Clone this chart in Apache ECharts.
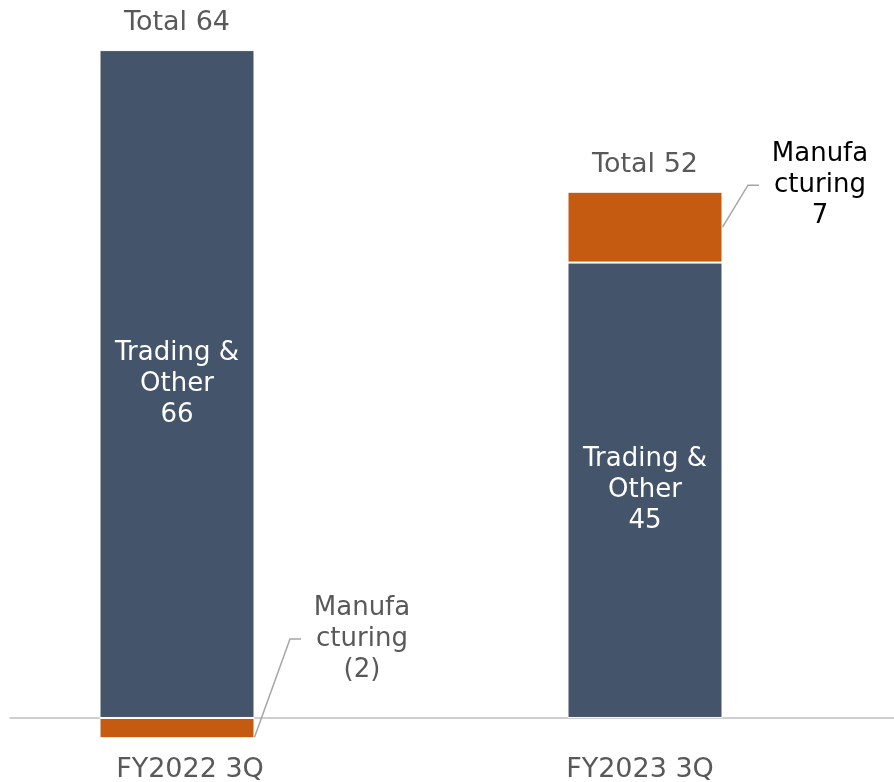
<!DOCTYPE html>
<html>
<head>
<meta charset="utf-8">
<script src="https://cdn.jsdelivr.net/npm/echarts@6/dist/echarts.min.js"></script>
<style>html,body{margin:0;padding:0;background:#fff}#c{width:894px;height:782px}</style>
</head>
<body>
<div id="c"></div>
<script>
const categories = ['FY2022 3Q', 'FY2023 3Q'];
const tradingOther = [66, 45];
const manufacturing = [-2, 7];
const totals = [64, 52];

const FONT = '"DejaVu Sans", sans-serif';
const GRAY = '#595959';
const BAR_W = 155;
const manufLabelColors = [GRAY, '#000000'];
const manufOffsets = [[185, -89], [175, -42]];
const leaderStartFrac = [0.95, 0.5];

const chart = echarts.init(document.getElementById('c'), null, {renderer: 'canvas'});
const gridTop = 9.6, gridBottom = 3.3;
chart.setOption({
  animation: false,
  backgroundColor: '#ffffff',
  grid: [
    {left: -57, right: 15, top: gridTop, bottom: gridBottom, containLabel: false, outerBoundsMode: 'none'},
    {left: 10, right: 0, top: gridTop, bottom: gridBottom, containLabel: false, outerBoundsMode: 'none'}
  ],
  xAxis: [
    {type: 'category', gridIndex: 0, data: categories,
     axisLine: {show: false, onZero: false}, axisTick: {show: false},
     axisLabel: {color: GRAY, fontSize: 27, fontFamily: FONT, margin: -22,
                 formatter: (v, i) => '{c' + i + '|' + v + '}',
                 rich: {
                   c0: {color: GRAY, fontSize: 27, fontFamily: FONT, padding: [0, 0, 0, 26]},
                   c1: {color: GRAY, fontSize: 27, fontFamily: FONT, padding: [0, 10, 0, 0]}
                 }}},
    {type: 'value', gridIndex: 1, min: 0, max: 1, splitLine: {show: false},
     axisTick: {show: false}, axisLabel: {show: false},
     axisLine: {show: true, onZero: true, lineStyle: {color: '#bfbfbf', width: 1.5}}}
  ],
  yAxis: [
    {type: 'value', gridIndex: 0, min: -6, max: 70, show: false},
    {type: 'value', gridIndex: 1, min: -6, max: 70, show: false}
  ],
  series: [
    {name: 'Trading & Other', type: 'bar', stack: 's', xAxisIndex: 0, yAxisIndex: 0,
     barWidth: BAR_W, data: tradingOther,
     itemStyle: {color: '#44546A', borderColor: '#ffffff', borderWidth: 1},
     label: {show: true, position: 'inside', color: '#ffffff', fontSize: 26, fontFamily: FONT,
             lineHeight: 31,
             formatter: p => 'Trading &\nOther\n' + p.value}},
    {name: 'Manufacturing', type: 'bar', stack: 's', xAxisIndex: 0, yAxisIndex: 0,
     barWidth: BAR_W,
     data: manufacturing.map((v, i) => ({value: v, label: {color: manufLabelColors[i]}})),
     itemStyle: {color: '#C55A11', borderColor: '#ffffff', borderWidth: 1},
     label: {show: true, position: 'inside', fontSize: 26, fontFamily: FONT, lineHeight: 31,
             formatter: p => 'Manufa\ncturing\n' + (p.value < 0 ? '(' + (-p.value) + ')' : p.value)},
     labelLayout: p => ({dx: manufOffsets[p.dataIndex][0], dy: manufOffsets[p.dataIndex][1]})},
    {name: 'Leader', type: 'custom', xAxisIndex: 0, yAxisIndex: 0, silent: true, z: 5,
     data: manufacturing.map((v, i) => [i, tradingOther[i], v]),
     renderItem: (params, api) => {
       const i = params.dataIndex;
       const idx = api.value(0), base = api.value(1), m = api.value(2);
       const lo = m < 0 ? m : base, hi = m < 0 ? 0 : base + m;
       const pTop = api.coord([idx, hi]), pBot = api.coord([idx, lo]);
       const xRight = pTop[0] + BAR_W / 2;
       const yStart = pTop[1] + (pBot[1] - pTop[1]) * leaderStartFrac[i];
       const cx = pTop[0] + manufOffsets[i][0];
       const cy = (pTop[1] + pBot[1]) / 2 + manufOffsets[i][1];
       return {type: 'polyline', shape: {points: [[xRight, yStart], [cx - 72, cy], [cx - 61, cy]]},
               style: {stroke: '#a6a6a6', lineWidth: 1.5, fill: null}};
     }},
    {name: 'Total', type: 'scatter', xAxisIndex: 0, yAxisIndex: 0, symbolSize: 1,
     itemStyle: {color: 'rgba(0,0,0,0)', opacity: 1}, silent: true,
     data: tradingOther.map((v, i) => v + Math.max(manufacturing[i], 0)),
     label: {show: true, position: 'top', distance: 13, color: GRAY, fontSize: 27, fontFamily: FONT,
             formatter: p => 'Total ' + totals[p.dataIndex]}},
    {type: 'line', xAxisIndex: 1, yAxisIndex: 1, data: [], silent: true}
  ]
});
</script>
</body>
</html>
